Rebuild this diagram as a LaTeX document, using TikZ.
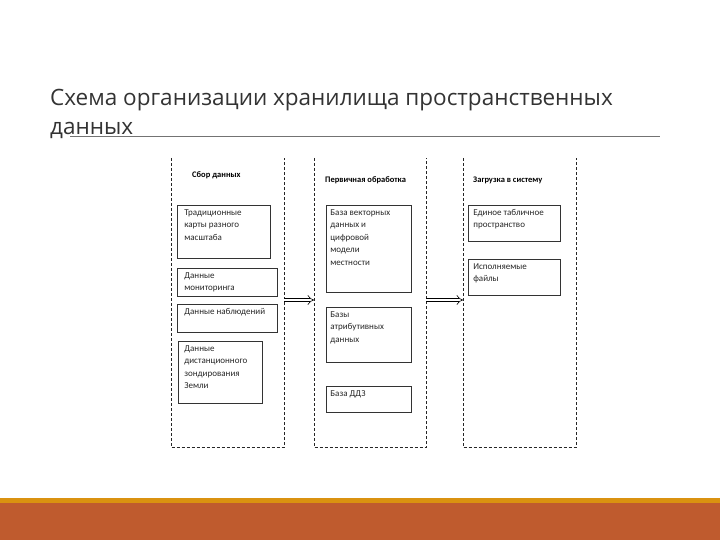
\documentclass[tikz,border=0pt]{standalone}
\usepackage{fontspec}
\setmainfont{Open Sans}
\newfontfamily\boxfont{Carlito}
\usetikzlibrary{arrows.meta}
\definecolor{gold}{HTML}{DA9210}
\definecolor{rust}{HTML}{BF5B2E}
\definecolor{ink}{HTML}{333333}
\newcommand\bxt[3]{\parbox[c][#2][t]{#1}{#3}}
\tikzset{
  column/.style={draw=none, inner sep=0pt, anchor=north west},
  coledge/.style={draw=black!85, line width=0.8pt, dash pattern=on 3pt off 2pt},
  coltitle/.style={font=\boxfont\bfseries\fontsize{8.5}{10}\selectfont, anchor=base west, inner sep=0pt},
  itembox/.style={draw=black!80, line width=0.7pt, anchor=north west, inner xsep=5pt, inner ysep=4pt,
    font=\boxfont\fontsize{9}{12.5}\selectfont, text=black!85},
  flow/.style={draw=black, line width=0.6pt, double, double distance=2.8pt, -{Implies[length=4.5pt]}},
}
\begin{document}
\begin{tikzpicture}[x=1pt, y=-1pt]
\useasboundingbox (0,0) rectangle (720,540);
% bottom bars
\fill[gold] (0,498) rectangle (720,503);
\fill[rust] (0,503) rectangle (720,540);
% title
\node[anchor=base west, inner sep=0pt, align=left, text=ink,
  font=\fontsize{22.5}{29}\selectfont] (title) at (50,135)
  {Схема организации хранилища пространственных\\данных};
\coordinate (ulA) at (70,136);
\coordinate (ulB) at (660,136);
\draw[black!55, line width=0.7pt] (ulA) -- (ulB);
% columns
\node[column, minimum width=113pt, minimum height=289pt] (c1) at (171,158) {};
\node[column, minimum width=112pt, minimum height=289pt] (c2) at (314,158) {};
\node[column, minimum width=113pt, minimum height=289pt] (c3) at (463,158) {};
\foreach \c in {c1,c2,c3}
  \draw[coledge] (\c.north west) -- (\c.south west) -- (\c.south east) -- (\c.north east);
% column titles
\node[coltitle] (t1) at (192,178) {Сбор данных};
\node[coltitle] (t2) at (325,183) {Первичная обработка};
\node[coltitle] (t3) at (473,183) {Загрузка в систему};
% column 1 boxes
\node[itembox, inner xsep=7pt] (a1) at (177,205) {\bxt{79pt}{45pt}{Традиционные\\карты разного\\масштаба}};
\node[itembox, inner xsep=7pt] (a2) at (177,268) {\bxt{86pt}{20pt}{Данные\\мониторинга}};
\node[itembox, inner xsep=7pt] (a3) at (177,304) {\bxt{86pt}{20pt}{Данные наблюдений}};
\node[itembox, inner xsep=6pt] (a4) at (178,341) {\bxt{72pt}{54pt}{Данные\\дистанционного\\зондирования\\Земли}};
% column 2 boxes
\node[itembox, inner xsep=4pt] (b1) at (326,205) {\bxt{77pt}{79pt}{База векторных\\данных и\\цифровой\\модели\\местности}};
\node[itembox, inner xsep=4pt] (b2) at (326,307) {\bxt{77pt}{47pt}{Базы\\атрибутивных\\данных}};
\node[itembox, inner xsep=4pt] (b3) at (326,386) {\bxt{77pt}{18pt}{База ДДЗ}};
% column 3 boxes
\node[itembox] (d1) at (468,205) {\bxt{82pt}{28pt}{Единое табличное\\пространство}};
\node[itembox] (d2) at (468,259) {\bxt{82pt}{28pt}{Исполняемые\\файлы}};
% arrows
\coordinate (f1s) at (c1.east |- 0,300);
\coordinate (f1e) at (c2.west |- 0,300);
\coordinate (f2s) at (c2.east |- 0,300);
\coordinate (f2e) at (c3.west |- 0,300);
\draw[flow] (f1s) -- (f1e);
\draw[flow] (f2s) -- (f2e);
\end{tikzpicture}
\end{document}
